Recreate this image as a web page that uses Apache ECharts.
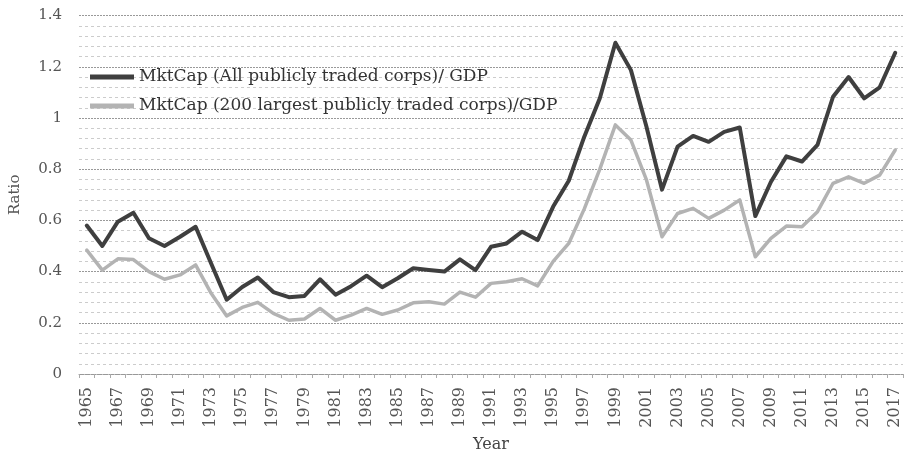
<!DOCTYPE html>
<html>
<head>
<meta charset="utf-8">
<script src="https://cdn.jsdelivr.net/npm/echarts@6/dist/echarts.min.js"></script>
<style>
  html, body { margin: 0; padding: 0; background: #fff; overflow: hidden; }
  #chart { width: 905px; height: 454px; }
</style>
</head>
<body>
<div id="chart"></div>
<script>
const years = ['1965','1966','1967','1968','1969','1970','1971','1972','1973','1974','1975','1976','1977','1978','1979','1980','1981','1982','1983','1984','1985','1986','1987','1988','1989','1990','1991','1992','1993','1994','1995','1996','1997','1998','1999','2000','2001','2002','2003','2004','2005','2006','2007','2008','2009','2010','2011','2012','2013','2014','2015','2016','2017'];

const allCorps = [0.58,0.50,0.595,0.63,0.53,0.50,0.536,0.575,0.432,0.29,0.34,0.377,0.32,0.30,0.305,0.37,0.31,0.343,0.384,0.339,0.374,0.413,0.406,0.40,0.448,0.406,0.497,0.51,0.556,0.523,0.654,0.755,0.927,1.077,1.294,1.187,0.966,0.72,0.888,0.93,0.907,0.946,0.963,0.617,0.75,0.85,0.83,0.895,1.083,1.16,1.077,1.12,1.255];

const top200 = [0.484,0.406,0.45,0.447,0.40,0.37,0.387,0.426,0.315,0.227,0.26,0.28,0.237,0.21,0.215,0.256,0.21,0.23,0.256,0.233,0.25,0.278,0.282,0.273,0.32,0.30,0.354,0.36,0.372,0.344,0.44,0.51,0.645,0.80,0.973,0.914,0.758,0.536,0.627,0.647,0.608,0.64,0.68,0.458,0.53,0.578,0.575,0.634,0.745,0.77,0.745,0.777,0.875];

const seriesNames = ['MktCap (All publicly traded corps)/ GDP', 'MktCap (200 largest publicly traded corps)/GDP'];

const serif = '"DejaVu Serif", "Liberation Serif", serif';
const chart = echarts.init(document.getElementById('chart'));
chart.setOption({
  animation: false,
  backgroundColor: '#ffffff',
  grid: { left: 79, right: 2, top: 15.6, bottom: 80, containLabel: false, outerBoundsMode: 'none' },
  legend: {
    orient: 'vertical',
    left: 90,
    top: 68,
    padding: 0,
    icon: 'rect',
    itemWidth: 44,
    itemHeight: 5,
    itemGap: 11,
    textStyle: { fontFamily: serif, fontSize: 17, lineHeight: 18, color: '#333' },
    data: seriesNames
  },
  xAxis: {
    type: 'category',
    data: years,
    boundaryGap: true,
    name: 'Year',
    nameLocation: 'middle',
    nameGap: 63,
    nameTextStyle: { fontFamily: serif, fontSize: 16, color: '#444' },
    axisLine: { show: true, lineStyle: { color: '#999', width: 1, type: 'dotted' } },
    axisTick: { show: true, interval: 0, length: 4, lineStyle: { color: '#aaa' } },
    axisLabel: { interval: 1, rotate: 90, margin: 13, fontFamily: serif, fontSize: 16, color: '#555' },
    splitLine: { show: false }
  },
  yAxis: {
    type: 'value',
    min: 0,
    max: 1.4,
    interval: 0.2,
    name: 'Ratio',
    nameLocation: 'middle',
    nameGap: 56,
    nameTextStyle: { fontFamily: serif, fontSize: 15, color: '#555' },
    axisLine: { show: false },
    axisTick: { show: false },
    axisLabel: {
      margin: 17,
      fontFamily: serif, fontSize: 15, color: '#555',
      formatter: function (v) { return String(Math.round(v * 10) / 10); }
    },
    splitLine: { show: true, lineStyle: { color: '#999', width: 1, type: [2, 1] } },
    minorTick: { show: false, splitNumber: 5 },
    minorSplitLine: { show: true, lineStyle: { color: '#cccccc', width: 1, type: [3, 3] } }
  },
  series: [
    {
      name: seriesNames[0],
      type: 'line',
      data: allCorps,
      showSymbol: false,
      symbol: 'none',
      lineStyle: { color: '#3f3f3f', width: 4, join: 'round', cap: 'round' },
      itemStyle: { color: '#3f3f3f' },
      z: 3
    },
    {
      name: seriesNames[1],
      type: 'line',
      data: top200,
      showSymbol: false,
      symbol: 'none',
      lineStyle: { color: '#b3b3b3', width: 3.5, join: 'round', cap: 'round' },
      itemStyle: { color: '#b3b3b3' },
      z: 2
    }
  ]
});
</script>
</body>
</html>
